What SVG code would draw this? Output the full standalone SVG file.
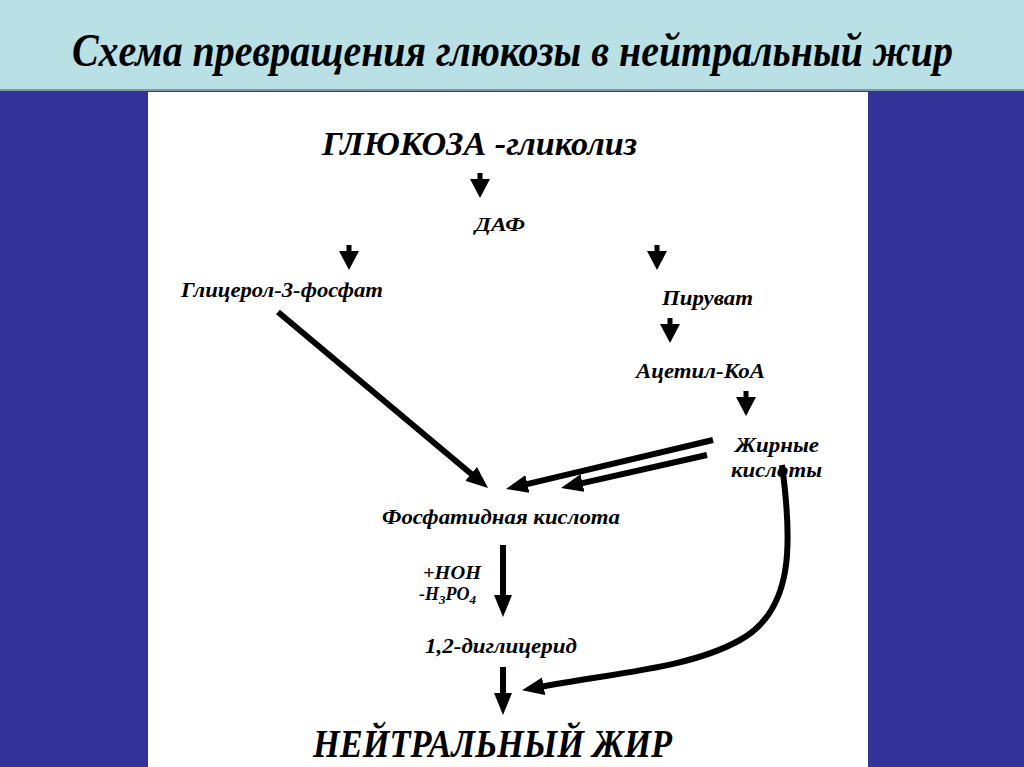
<svg xmlns="http://www.w3.org/2000/svg" xmlns:xlink="http://www.w3.org/1999/xlink" width="1024" height="767" viewBox="0 0 1024 767">
<defs>
<style>
text{font-family:"Liberation Serif","Times New Roman",serif;font-weight:bold;font-style:italic;fill:#000}
.lbl{font-size:20px}
.big{stroke:#000;stroke-width:6;fill:none}
</style>
<path id="sa" d="M-2.5,0 H2.5 V6 H10 L0,25 L-10,6 H-2.5 Z" fill="#000"/>
<marker id="ah" markerUnits="userSpaceOnUse" markerWidth="22" markerHeight="18" refX="8" refY="9" orient="auto" viewBox="0 0 22 18">
<path d="M0,0 L22,9 L0,18 Z" fill="#000"/>
</marker>
</defs>
<rect x="0" y="0" width="1024" height="767" fill="#333399"/>
<rect x="0" y="0" width="1024" height="90" fill="#b9e0e4"/>
<rect x="0" y="89" width="1024" height="2" fill="#7d98a8"/>
<rect x="148" y="92" width="720" height="675" fill="#ffffff"/>
<text id="title" x="72" y="57.4" font-size="40" transform="scale(1,1.15)" textLength="881" lengthAdjust="spacingAndGlyphs">Схема превращения глюкозы в нейтральный жир</text>

<g id="glucose"><text x="322" y="155" font-size="34" textLength="315" lengthAdjust="spacingAndGlyphs">ГЛЮКОЗА -гликолиз</text></g>
<g id="daf"><text x="475" y="231" font-size="19" textLength="50" lengthAdjust="spacingAndGlyphs">ДАФ</text></g>
<g id="g3p"><text class="lbl" x="181" y="297" textLength="202" lengthAdjust="spacingAndGlyphs">Глицерол-3-фосфат</text></g>
<g id="pyruvate"><text class="lbl" x="662" y="305" textLength="91" lengthAdjust="spacingAndGlyphs">Пируват</text></g>
<g id="acetylcoa"><text class="lbl" x="636" y="378" textLength="129" lengthAdjust="spacingAndGlyphs">Ацетил-КоА</text></g>
<g id="fattyacids">
<text class="lbl" x="735" y="452" textLength="84" lengthAdjust="spacingAndGlyphs">Жирные</text>
<text class="lbl" x="731" y="477" textLength="91" lengthAdjust="spacingAndGlyphs">кислоты</text>
</g>
<g id="phosphatidic"><text class="lbl" x="382" y="524" textLength="238" lengthAdjust="spacingAndGlyphs">Фосфатидная кислота</text></g>
<g id="hydrolysis">
<text x="423" y="579" font-size="18" textLength="58" lengthAdjust="spacingAndGlyphs">+НОН</text>
<text x="419" y="600" font-size="18">-H<tspan dy="4" font-size="13">3</tspan><tspan dy="-4">PO</tspan><tspan dy="4" font-size="13">4</tspan></text>
</g>
<g id="diglyceride"><text class="lbl" x="425" y="653" textLength="152" lengthAdjust="spacingAndGlyphs">1,2-диглицерид</text></g>
<g id="neutralfat"><text x="313" y="757" font-size="39" textLength="359" lengthAdjust="spacingAndGlyphs">НЕЙТРАЛЬНЫЙ ЖИР</text></g>

<g id="connectors">
<use xlink:href="#sa" x="480" y="173"/>
<use xlink:href="#sa" x="349" y="245"/>
<use xlink:href="#sa" x="657" y="245"/>
<use xlink:href="#sa" x="670" y="318"/>
<use xlink:href="#sa" x="746" y="391"/>
<line class="big" x1="278" y1="312" x2="477.3" y2="479" marker-end="url(#ah)"/>
<line class="big" x1="713" y1="440" x2="519.6" y2="485.8" marker-end="url(#ah)"/>
<line class="big" x1="707" y1="455" x2="574.7" y2="484.9" marker-end="url(#ah)"/>
<line class="big" x1="503" y1="545" x2="503" y2="603" marker-end="url(#ah)"/>
<line class="big" x1="503" y1="667" x2="503" y2="701" marker-end="url(#ah)"/>
<path class="big" d="M782,465 C792,540 795,610 740,640 C690,668 620,672 535.8,687.7" marker-end="url(#ah)"/>
</g>
</svg>
